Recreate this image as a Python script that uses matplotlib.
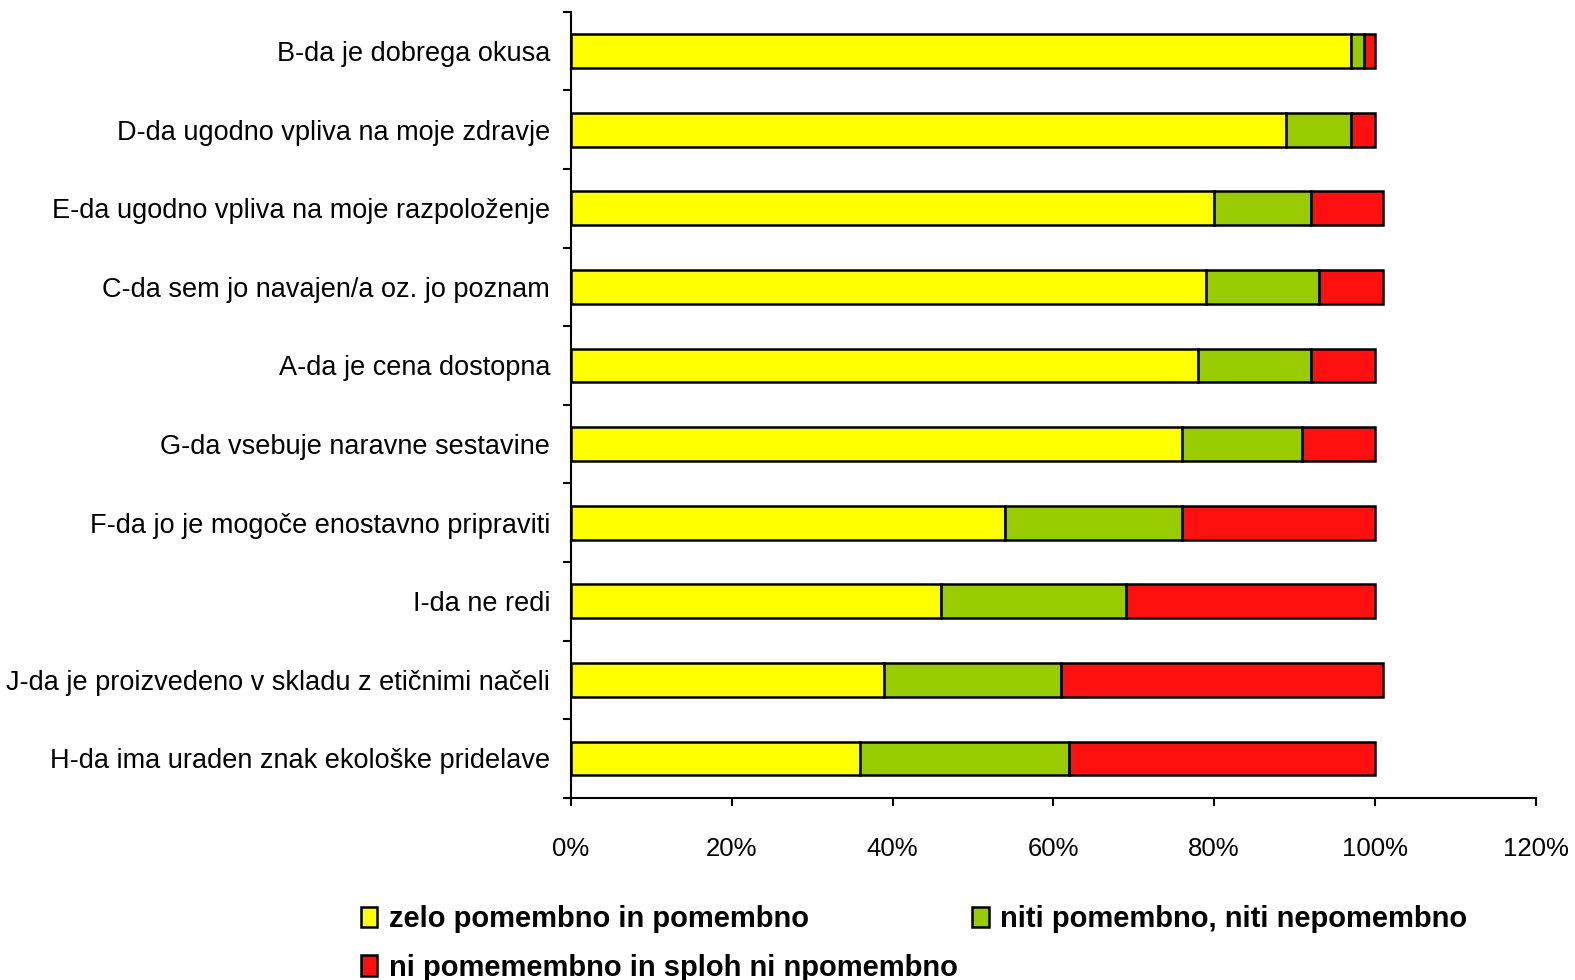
import matplotlib
matplotlib.use("Agg")
import matplotlib.pyplot as plt
from matplotlib.patches import Patch
import numpy as np

categories = [
    "B-da je dobrega okusa",
    "D-da ugodno vpliva na moje zdravje",
    "E-da ugodno vpliva na moje razpoloženje",
    "C-da sem jo navajen/a oz. jo poznam",
    "A-da je cena dostopna",
    "G-da vsebuje naravne sestavine",
    "F-da jo je mogoče enostavno pripraviti",
    "I-da ne redi",
    "J-da je proizvedeno v skladu z etičnimi načeli",
    "H-da ima uraden znak ekološke pridelave",
]
important = [97, 89, 80, 79, 78, 76, 54, 46, 39, 36]
neutral = [1.7, 8, 12, 14, 14, 15, 22, 23, 22, 26]
unimportant = [1.3, 3, 9, 8, 8, 9, 24, 31, 40, 38]
series_names = ["zelo pomembno in pomembno",
                "niti pomembno, niti nepomembno",
                "ni pomemembno in sploh ni npomembno"]
xticks = [0, 20, 40, 60, 80, 100, 120]

colors = ["#FFFF00", "#99CC00", "#FF1010"]

plt.rcParams['font.family'] = ['Liberation Sans', 'DejaVu Sans']
fig = plt.figure(figsize=(15.75, 9.8), dpi=100)
ax = fig.add_axes([0.3625, 0.186, 0.6125, 0.802])

y = np.arange(len(categories))
left = np.zeros(len(categories))
handles = []
for vals, c, name in zip([important, neutral, unimportant], colors, series_names):
    ax.barh(y, vals, left=left, height=0.43, color=c, edgecolor="black", linewidth=1.8)
    left = left + np.array(vals)
    handles.append(Patch(facecolor=c, edgecolor="black", linewidth=1.8, label=name))

ax.set_ylim(len(categories) - 0.5, -0.5)
ax.set_xlim(0, 120)
ax.set_xticks(xticks)
ax.set_xticklabels([f"{v}%" for v in xticks], fontsize=18.5)
ax.tick_params(axis="x", direction="out", length=6, width=1.5, pad=22)

ax.set_yticks(np.arange(len(categories) + 1) - 0.5)
ax.set_yticklabels([])
ax.set_yticks(y, minor=True)
ax.set_yticklabels(categories, minor=True, fontsize=19.5)
ax.tick_params(axis="y", which="major", direction="out", length=6, width=1.5)
ax.tick_params(axis="y", which="minor", length=0, pad=15)

for s in ["top", "right"]:
    ax.spines[s].set_visible(False)
ax.spines["left"].set_linewidth(1.5)
ax.spines["bottom"].set_linewidth(1.5)
ax.spines["bottom"].set_bounds(-0.5, 120)

leg = fig.legend([handles[0], handles[2], handles[1]],
                 [series_names[0], series_names[2], series_names[1]],
                 ncol=2, loc="upper left", bbox_to_anchor=(0.222, 0.088),
                 frameon=False, prop={"weight": "bold", "size": 21},
                 handlelength=0.55, handleheight=0.7, handletextpad=0.4,
                 columnspacing=0.5, labelspacing=0.7, borderaxespad=0)

fig.savefig("out.png", dpi=100)
